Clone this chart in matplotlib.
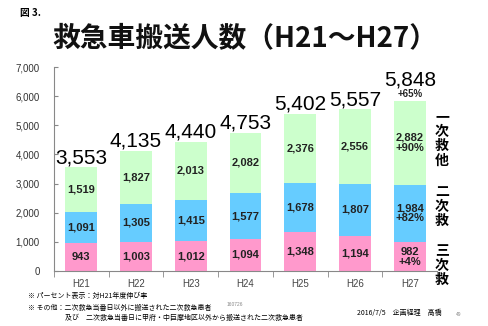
import numpy as np
import matplotlib
matplotlib.use('Agg')
import matplotlib.pyplot as plt

plt.rcParams['font.family'] = ['Liberation Sans', 'Noto Sans CJK JP', 'DejaVu Sans']
jp = ['Noto Sans CJK JP', 'DejaVu Sans']

years = ['H21', 'H22', 'H23', 'H24', 'H25', 'H26', 'H27']
tertiary = [943, 1003, 1012, 1094, 1348, 1194, 982]      # 三次救
secondary = [1091, 1305, 1415, 1577, 1678, 1807, 1984]   # 二次救
primary = [1519, 1827, 2013, 2082, 2376, 2556, 2882]     # 一次救他
growth_last = ['+4%', '+82%', '+90%']                    # 対H21伸び率
total_growth = '+65%'

c_ter = '#ff99cc'
c_sec = '#66ccff'
c_pri = '#ccffcc'

fig = plt.figure(figsize=(4.89, 3.26), dpi=100)
ax = fig.add_axes([0.110, 0.169, 0.784, 0.625])

x = np.arange(len(years))
w = 0.58
ter = np.array(tertiary)
sec = np.array(secondary)
pri = np.array(primary)
total = ter + sec + pri

ax.bar(x, ter, w, color=c_ter)
ax.bar(x, sec, w, bottom=ter, color=c_sec)
ax.bar(x, pri, w, bottom=ter + sec, color=c_pri)

last = len(years) - 1
for i in x:
    segs = [(ter[i], 0), (sec[i], ter[i]), (pri[i], ter[i] + sec[i])]
    for k, (v, b) in enumerate(segs):
        txt = f'{v:,}'
        if i == last:
            txt += '\n' + growth_last[k]
        ax.text(i, b + v / 2, txt, ha='center', va='center', fontsize=8,
                fontweight='bold', color='#222222', linespacing=1.0)
    if i == last:
        ax.text(i, total[i] + 60, total_growth, ha='center', va='bottom',
                fontsize=7, fontweight='bold', color='#222222')
        ax.text(i, total[i] + 380, f'{total[i]:,}', ha='center', va='bottom',
                fontsize=15, color='black')
    else:
        ax.text(i, total[i] + 0, f'{total[i]:,}', ha='center', va='bottom',
                fontsize=15, color='black')

ax.set_xlim(-0.5, len(years) - 0.5)
ax.set_ylim(0, 7000)
ax.set_yticks(np.arange(0, 7001, 1000))
ax.set_yticklabels([f'{v:,}' for v in range(0, 7001, 1000)])
ax.set_xticks(x)
ax.set_xticklabels(years)
ax.set_xticks(np.arange(-0.5, len(years)), minor=True)
ax.tick_params(axis='x', which='major', length=0, pad=6, labelsize=7, labelcolor='#444444')
ax.tick_params(axis='x', which='minor', length=4, direction='out', color='#888888')
ax.tick_params(axis='y', length=3, direction='in', labelsize=7, labelcolor='#333333',
               color='#888888', pad=10)

for s in ['top', 'right']:
    ax.spines[s].set_visible(False)
for s in ['left', 'bottom']:
    ax.spines[s].set_color('#888888')

# 右側の区分ラベル
side = [('一\n次\n救\n他', 110), ('二\n次\n救', 185), ('三\n次\n救', 244)]
for s, ypix in side:
    fig.text(442 / 489, 1 - ypix / 326, s, family=jp, fontsize=10, fontweight='bold',
             ha='center', va='top', linespacing=1.05)

fig.text(20 / 489, 1 - 13 / 326, '図 3.', family=jp, fontsize=7, fontweight='bold',
         ha='left', va='center')
fig.text(52 / 489, 1 - 38 / 326, '救急車搬送人数（H21～H27）', family=jp, fontsize=20,
         fontweight='bold', ha='left', va='center', color='#111111')

fig.text(28 / 489, 1 - 296 / 326, '※ パーセント表示：対H21年度伸び率', family=jp,
         fontsize=5, ha='left', va='center')
fig.text(28 / 489, 1 - 308 / 326, '※ その他：二次救急当番日以外に搬送された二次救急患者', family=jp,
         fontsize=5, ha='left', va='center')
fig.text(227 / 489, 1 - 305 / 326, '160726', fontsize=3.5, color='#888888',
         ha='left', va='center')
fig.text(65 / 489, 1 - 318 / 326, '及び　二次救急当番日に甲府・中巨摩地区以外から搬送された二次救急患者',
         family=jp, fontsize=5, ha='left', va='center')
fig.text(357 / 489, 1 - 313 / 326, '2016/7/5　企画経理　高橋', family=jp,
         fontsize=5, ha='left', va='center')
fig.text(456 / 489, 1 - 314 / 326, '49', fontsize=3.5, color='#888888',
         ha='left', va='center')

fig.savefig('out.png', dpi=100)
